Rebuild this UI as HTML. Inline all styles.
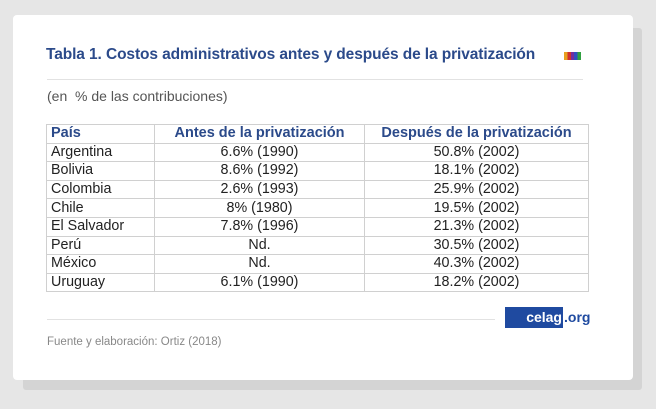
<!DOCTYPE html>
<html><head><meta charset="utf-8"><style>
body{margin:0;width:656px;height:409px;background:#e6e6e6;position:relative;overflow:hidden;font-family:"Liberation Sans",sans-serif}
.sh{position:absolute;left:23px;top:28px;width:619px;height:362px;background:#d4d4d4;border-radius:3px}
.card{position:absolute;left:13px;top:15px;width:620px;height:365px;background:#fff;border-radius:4px}
.t{position:absolute;left:46px;top:46px;font-size:15.5px;font-weight:bold;color:#2b4a8a;letter-spacing:-0.1px}
.hr{position:absolute;height:1px;background:#e2e2e2}
.sub{position:absolute;left:47px;top:88px;font-size:14px;color:#555}
table{position:absolute;left:46px;top:124px;width:543px;border-collapse:collapse;font-size:14.3px;color:#222}
td,th{border:1px solid #d0d0d0;height:17.6px;padding:0 0 0 4px;line-height:17px}
th{color:#2b4a8a;font-weight:bold;font-size:14.5px}
td:nth-child(n+2),th:nth-child(n+2){text-align:center;padding:0}
.src{position:absolute;left:47px;top:336px;font-size:11.5px;color:#888}
.logo{position:absolute;left:505px;top:307px;width:58px;height:21px;background:#1f4aa0;color:#fff;font-weight:bold;font-size:14px;line-height:20px;text-align:right;box-sizing:border-box;padding-right:1px}
.org{position:absolute;left:564px;top:307px;font-size:14px;font-weight:bold;color:#1f4aa0;line-height:20px}
</style></head><body>
<div class="sh"></div><div class="card"></div>
<div class="t">Tabla 1. Costos administrativos antes y después de la privatización</div>
<div style="position:absolute;left:564px;top:52px;width:17px;height:8px;background:linear-gradient(90deg,#e8a020 0 20%,#d03030 20% 40%,#7030a0 40% 60%,#3050c0 60% 80%,#30a040 80%)"></div>
<div class="hr" style="left:47px;top:79px;width:536px"></div>
<div class="sub">(en&nbsp; % de las contribuciones)</div>
<table>
<tr><th style="text-align:left;width:103px">País</th><th style="width:209px">Antes de la privatización</th><th>Después de la privatización</th></tr>
<tr><td>Argentina</td><td>6.6% (1990)</td><td>50.8% (2002)</td></tr>
<tr><td>Bolivia</td><td>8.6% (1992)</td><td>18.1% (2002)</td></tr>
<tr><td>Colombia</td><td>2.6% (1993)</td><td>25.9% (2002)</td></tr>
<tr><td>Chile</td><td>8% (1980)</td><td>19.5% (2002)</td></tr>
<tr><td>El Salvador</td><td>7.8% (1996)</td><td>21.3% (2002)</td></tr>
<tr><td>Perú</td><td>Nd.</td><td>30.5% (2002)</td></tr>
<tr><td>México</td><td>Nd.</td><td>40.3% (2002)</td></tr>
<tr><td>Uruguay</td><td>6.1% (1990)</td><td>18.2% (2002)</td></tr>
</table>
<div class="hr" style="left:47px;top:319px;width:448px"></div>
<div class="logo">celag</div><div class="org">.org</div>
<div class="src">Fuente y elaboración: Ortiz (2018)</div>
</body></html>
